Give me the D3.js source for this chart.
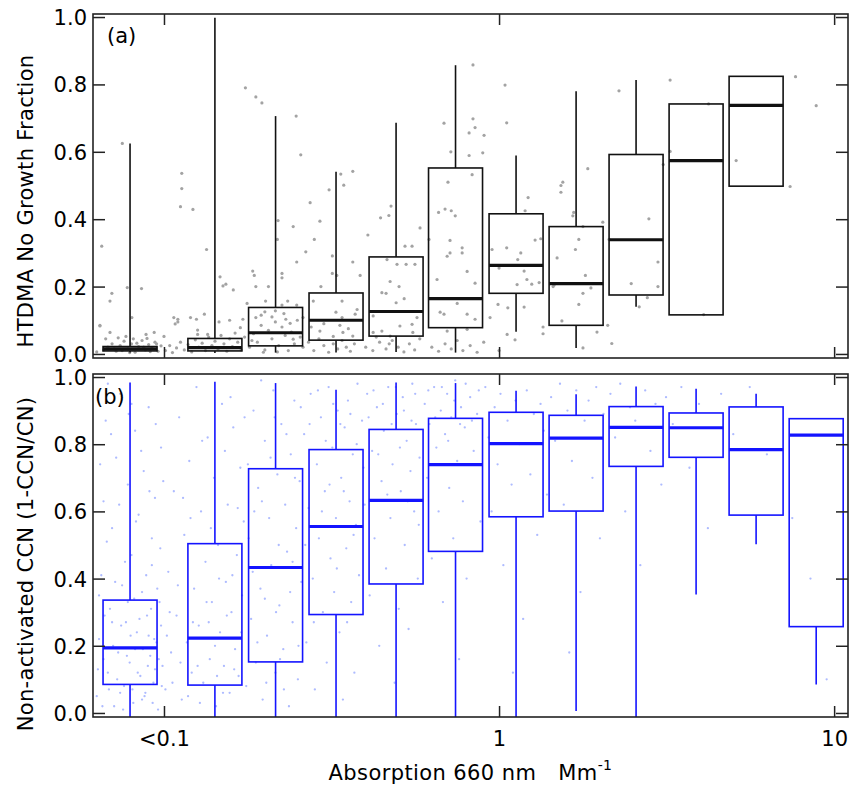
<!DOCTYPE html>
<html>
<head>
<meta charset="utf-8">
<script src="https://cdn.jsdelivr.net/npm/d3@7"></script>
<style>
  body { margin: 0; background: #fff; }
  text { font-family: "DejaVu Sans", Verdana, sans-serif; fill: #000; }
</style>
</head>
<body>
<div id="chart"></div>
<script>
// bin centres (absorption, Mm-1) for the box plots
const absorptionBins = [0.0792, 0.1419, 0.2153, 0.3262, 0.4928, 0.7415, 1.124, 1.698, 2.564, 3.873, 5.85, 8.84]

// [lower whisker, q1, median, q3, upper whisker]
const htdmaStats = [
	[0.004, 0.009, 0.015, 0.022, 0.625],
	[0.003, 0.009, 0.019, 0.046, 0.998],
	[0.004, 0.024, 0.063, 0.138, 0.706],
	[0.004, 0.041, 0.100, 0.181, 0.541],
	[0.006, 0.053, 0.126, 0.288, 0.686],
	[0.004, 0.078, 0.164, 0.552, 0.857],
	[0.066, 0.180, 0.263, 0.416, 0.589],
	[0.018, 0.085, 0.209, 0.378, 0.780],
	[0.140, 0.175, 0.339, 0.592, 0.813],
	[null, 0.116, 0.574, 0.742, null],
	[null, 0.498, 0.738, 0.824, null]
]
const ccnStats = [
	[-0.012, 0.085, 0.194, 0.336, 0.984],
	[-0.012, 0.083, 0.223, 0.504, 0.986],
	[-0.012, 0.152, 0.433, 0.727, 0.982],
	[-0.012, 0.293, 0.555, 0.784, 0.962],
	[-0.012, 0.384, 0.633, 0.844, 0.984],
	[-0.012, 0.481, 0.739, 0.877, 0.982],
	[-0.012, 0.584, 0.802, 0.895, 0.959],
	[0.006, 0.601, 0.818, 0.886, 0.949],
	[-0.012, 0.734, 0.850, 0.912, 0.972],
	[0.353, 0.761, 0.849, 0.893, 0.965],
	[0.502, 0.589, 0.784, 0.911, 0.950],
	[0.085, 0.257, 0.827, 0.876, null]
]

// individual samples [absorption, fraction]
const htdmaPoints = [
	[0.0652,0.32],[0.0699,0.18],[0.069,0.157],[0.0751,0.625],[0.0777,0.197],[0.0857,0.194],[0.0644,0.083],[0.0802,0.108],[0.0644,0.085],[0.069,0.064],[0.077,0.052],[0.0884,0.058],[0.0935,0.064],[0.100,0.052],
	[0.063,0.006],[0.066,0.012],[0.068,0.02],[0.070,0.03],[0.072,0.008],[0.074,0.025],[0.076,0.038],[0.078,0.015],[0.080,0.03],[0.082,0.005],[0.084,0.022],[0.086,0.04],[0.088,0.012],[0.090,0.028],[0.092,0.018],[0.094,0.035],[0.096,0.008],[0.098,0.024],[0.067,0.045],[0.073,0.048],[0.081,0.045],[0.089,0.046],[0.071,0.015],[0.075,0.01],[0.079,0.004],[0.083,0.032],[0.087,0.02],[0.091,0.007],[0.095,0.03],
	[0.107,0.108],[0.108,0.089],[0.110,0.095],[0.113,0.536],[0.113,0.491],[0.112,0.437],[0.122,0.429],[0.134,0.31],[0.147,0.229],[0.150,0.202],[0.153,0.207],[0.110,0.103],[0.120,0.108],[0.125,0.103],[0.132,0.118],[0.146,0.095],[0.126,0.071],[0.126,0.058],[0.135,0.058],[0.157,0.1],[0.161,0.19],[0.169,0.078],[0.172,0.103],
	[0.101,0.01],[0.104,0.025],[0.106,0.004],[0.109,0.018],[0.112,0.035],[0.115,0.012],[0.118,0.028],[0.121,0.006],[0.124,0.042],[0.127,0.02],[0.130,0.032],[0.133,0.01],[0.136,0.05],[0.139,0.025],[0.142,0.038],[0.145,0.015],[0.148,0.055],[0.151,0.03],[0.154,0.008],[0.157,0.045],[0.160,0.022],[0.163,0.062],[0.166,0.035],[0.170,0.012],[0.174,0.05],
	[0.175,0.79],[0.188,0.763],[0.196,0.745],[0.184,0.246],[0.186,0.233],[0.188,0.2],[0.219,0.396],[0.218,0.34],[0.225,0.239],[0.225,0.226],[0.243,0.378],[0.248,0.706],[0.205,0.2],[0.177,0.15],[0.201,0.157],[0.225,0.145],[0.234,0.157],[0.249,0.145],[0.188,0.108],[0.200,0.125],[0.215,0.128],[0.231,0.103],[0.238,0.091],[0.243,0.044],
	[0.18,0.02],[0.185,0.06],[0.19,0.035],[0.195,0.085],[0.2,0.012],[0.205,0.07],[0.21,0.045],[0.215,0.095],[0.22,0.025],[0.225,0.08],[0.23,0.055],[0.235,0.01],[0.24,0.065],[0.245,0.03],[0.25,0.1],[0.255,0.05],[0.195,0.115],[0.21,0.11],[0.228,0.12],[0.183,0.04],[0.198,0.005],[0.218,0.006],
	[0.256,0.591],[0.249,0.273],[0.273,0.449],[0.292,0.394],[0.281,0.34],[0.265,0.303],[0.311,0.487],[0.344,0.501],[0.366,0.542],[0.337,0.534],[0.318,0.291],[0.366,0.273],[0.318,0.239],[0.328,0.233],[0.385,0.233],[0.294,0.2],[0.279,0.157],[0.340,0.157],[0.260,0.108],[0.326,0.124],[0.340,0.108],[0.372,0.118],[0.377,0.132],[0.292,0.068],[0.320,0.052],[0.342,0.064],[0.366,0.053],
	[0.26,0.02],[0.27,0.035],[0.28,0.01],[0.29,0.045],[0.30,0.025],[0.31,0.005],[0.32,0.03],[0.33,0.015],[0.34,0.04],[0.35,0.02],[0.36,0.008],[0.37,0.03],[0.275,0.08],[0.30,0.09],[0.335,0.085],[0.355,0.075],
	[0.406,0.353],[0.443,0.404],[0.469,0.411],[0.476,0.439],[0.524,0.32],[0.55,0.32],[0.581,0.374],[0.463,0.28],[0.496,0.266],[0.528,0.266],[0.561,0.266],[0.447,0.182],[0.46,0.18],[0.473,0.215],[0.503,0.2],[0.521,0.164],[0.493,0.152],[0.421,0.113],[0.421,0.064],[0.447,0.068],[0.506,0.083],[0.55,0.088],[0.569,0.108],[0.553,0.064],[0.473,0.053],
	[0.40,0.02],[0.42,0.01],[0.44,0.035],[0.46,0.015],[0.48,0.04],[0.50,0.02],[0.52,0.006],[0.54,0.03],[0.56,0.012],[0.58,0.045],[0.43,0.05],[0.47,0.03],
	[0.836,0.858],[0.836,0.698],[0.848,0.672],[0.814,0.656],[0.902,0.649],[0.718,0.6],[0.814,0.589],[0.894,0.597],[0.685,0.685],[0.704,0.51],[0.831,0.532],[0.66,0.42],[0.69,0.43],[0.72,0.425],[0.74,0.41],[0.618,0.34],[0.714,0.337],[0.70,0.29],[0.714,0.3],[0.776,0.3],[0.776,0.315],[0.803,0.245],[0.848,0.21],[0.653,0.221],[0.667,0.124],[0.685,0.118],[0.75,0.15],[0.803,0.118],[0.848,0.103],[0.70,0.068],[0.803,0.073],
	[0.63,0.02],[0.66,0.008],[0.69,0.03],[0.72,0.015],[0.75,0.04],[0.78,0.01],[0.82,0.025],[0.86,0.005],[0.9,0.035],
	[0.94,0.108],[0.993,0.147],[1.042,0.798],[1.054,0.686],[1.221,0.464],[1.196,0.425],[1.281,0.338],[1.332,0.342],[0.953,0.31],[1.054,0.315],[1.161,0.3],[1.137,0.28],[1.188,0.246],[1.211,0.221],[1.132,0.206],[1.0,0.255],[1.252,0.207],[1.317,0.212],[1.062,0.137],[1.188,0.139],[1.057,0.058],[1.116,0.042],[1.353,0.08],[1.353,0.06],[1.0,0.01],
	[1.53,0.5],[1.55,0.51],[1.53,0.48],[1.66,0.41],[1.67,0.42],[1.49,0.285],[1.69,0.31],[1.73,0.34],[1.45,0.2],[1.46,0.205],[1.54,0.098],[1.73,0.147],[1.84,0.55],[1.78,0.378],[2.04,0.391],[1.81,0.233],[1.78,0.18],[1.88,0.196],[1.96,0.065],[1.78,0.018],[2.11,0.085],
	[2.17,0.031],[2.28,0.781],[2.13,0.34],[2.80,0.401],[3.09,0.562],[2.98,0.273],[2.48,0.209],[2.98,0.2],[2.77,0.167],[2.62,0.14],
	[3.24,0.601],[3.24,0.813],[4.22,0.742],[5.1,0.574],[4.08,0.117],[7.39,0.497],[7.67,0.823],[8.84,0.737]
]
const ccnPoints = [
	[0.063,0.05],[0.064,0.22],[0.065,0.41],[0.066,0.63],[0.067,0.87],[0.068,0.12],[0.069,0.31],[0.07,0.55],[0.071,0.02],[0.072,0.76],[0.073,0.18],[0.074,0.95],[0.075,0.38],[0.076,0.08],[0.077,0.27],[0.078,0.68],[0.079,0.15],[0.08,0.47],[0.081,0.03],[0.082,0.84],[0.083,0.24],[0.084,0.59],[0.085,0.11],[0.086,0.36],[0.087,0.72],[0.088,0.06],[0.089,0.29],[0.09,0.91],[0.091,0.17],[0.092,0.44],[0.093,0.09],[0.094,0.64],[0.095,0.21],[0.096,0.01],[0.097,0.33],[0.098,0.79],[0.099,0.14],[0.066,0.16],[0.070,0.27],[0.074,0.06],[0.078,0.33],[0.082,0.19],[0.086,0.04],[0.090,0.23],[0.094,0.13],[0.098,0.26],[0.068,0.98],[0.080,0.92],[0.092,0.52],[0.064,0.35],
	[0.0635,0.13],[0.0645,0.74],[0.0655,0.02],[0.0665,0.29],[0.0675,0.51],[0.0685,0.07],[0.0695,0.83],[0.0705,0.2],[0.0715,0.39],[0.0725,0.1],[0.0735,0.62],[0.0745,0.26],[0.0755,0.01],[0.0765,0.45],[0.0775,0.17],[0.0785,0.89],[0.0795,0.23],[0.0805,0.07],[0.0815,0.34],[0.0825,0.57],[0.0835,0.12],[0.0845,0.28],[0.0855,0.78],[0.0865,0.19],[0.0875,0.05],[0.0885,0.41],[0.0895,0.14],[0.0905,0.66],[0.0915,0.31],[0.0925,0.03],[0.0935,0.22],[0.0945,0.86],[0.0955,0.37],[0.0965,0.16],[0.0975,0.49],[0.0985,0.08],[0.0995,0.69],
	[0.101,0.07],[0.103,0.42],[0.105,0.18],[0.107,0.66],[0.109,0.29],[0.111,0.88],[0.113,0.04],[0.115,0.53],[0.117,0.21],[0.119,0.75],[0.121,0.12],[0.123,0.37],[0.125,0.97],[0.127,0.26],[0.129,0.6],[0.131,0.09],[0.133,0.45],[0.135,0.82],[0.137,0.16],[0.139,0.33],[0.141,0.7],[0.143,0.02],[0.145,0.5],[0.147,0.24],[0.149,0.92],[0.151,0.14],[0.153,0.39],[0.155,0.62],[0.157,0.06],[0.159,0.3],[0.161,0.85],[0.163,0.19],[0.165,0.47],[0.167,0.11],[0.169,0.73],[0.171,0.35],[0.173,0.57],[0.104,0.3],[0.112,0.15],[0.12,0.58],[0.128,0.03],[0.136,0.27],[0.144,0.11],[0.152,0.78],[0.16,0.41],
	[0.102,0.23],[0.106,0.09],[0.110,0.38],[0.114,0.64],[0.118,0.05],[0.122,0.27],[0.126,0.14],[0.130,0.81],[0.134,0.33],[0.138,0.55],[0.142,0.2],[0.146,0.4],[0.150,0.06],[0.154,0.29],[0.158,0.94],[0.162,0.13],[0.166,0.61],[0.170,0.24],[0.174,0.88],
	[0.176,0.08],[0.179,0.52],[0.182,0.28],[0.185,0.9],[0.188,0.15],[0.191,0.67],[0.194,0.37],[0.197,0.04],[0.2,0.81],[0.203,0.23],[0.206,0.58],[0.209,0.44],[0.212,0.96],[0.215,0.12],[0.218,0.71],[0.221,0.32],[0.224,0.86],[0.227,0.19],[0.23,0.62],[0.233,0.48],[0.236,0.02],[0.239,0.77],[0.242,0.27],[0.245,0.93],[0.248,0.55],[0.251,0.1],[0.254,0.69],[0.257,0.39],[0.186,0.6],[0.2,0.34],[0.214,0.88],[0.228,0.07],[0.242,0.45],[0.195,0.99],[0.22,0.5],
	[0.178,0.74],[0.184,0.42],[0.19,0.21],[0.196,0.63],[0.202,0.09],[0.208,0.76],[0.216,0.3],[0.222,0.16],[0.232,0.83],[0.238,0.36],[0.246,0.7],[0.252,0.2],[0.256,0.91],
	[0.262,0.83],[0.266,0.21],[0.27,0.61],[0.274,0.95],[0.278,0.4],[0.282,0.07],[0.286,0.74],[0.29,0.52],[0.294,0.88],[0.298,0.3],[0.302,0.66],[0.306,0.15],[0.31,0.97],[0.314,0.46],[0.318,0.79],[0.322,0.36],[0.326,0.58],[0.33,0.9],[0.334,0.24],[0.338,0.7],[0.342,0.04],[0.346,0.85],[0.35,0.49],[0.354,0.93],[0.358,0.63],[0.362,0.33],[0.366,0.77],[0.37,0.12],[0.374,0.56],[0.378,0.98],[0.382,0.41],
	[0.264,0.5],[0.272,0.86],[0.28,0.27],[0.288,0.96],[0.296,0.6],[0.304,0.81],[0.312,0.68],[0.32,0.92],[0.328,0.43],[0.336,0.86],[0.344,0.66],[0.352,0.27],[0.36,0.89],[0.368,0.53],[0.376,0.8],
	[0.39,0.87],[0.397,0.62],[0.404,0.95],[0.411,0.35],[0.418,0.78],[0.425,0.52],[0.432,0.91],[0.439,0.2],[0.446,0.69],[0.453,0.84],[0.46,0.43],[0.467,0.97],[0.474,0.58],[0.481,0.74],[0.488,0.09],[0.495,0.89],[0.502,0.31],[0.509,0.66],[0.516,0.94],[0.523,0.5],[0.53,0.81],[0.537,0.25],[0.544,0.72],[0.551,0.98],[0.558,0.6],[0.565,0.86],[0.572,0.4],[0.579,0.76],
	[0.394,0.73],[0.408,0.88],[0.422,0.96],[0.436,0.77],[0.45,0.92],[0.464,0.65],[0.478,0.86],[0.492,0.97],[0.506,0.79],[0.52,0.9],[0.534,0.63],[0.548,0.87],[0.562,0.95],[0.576,0.56],
	[0.6,0.92],[0.61,0.7],[0.62,0.86],[0.63,0.46],[0.64,0.97],[0.65,0.79],[0.66,0.6],[0.67,0.9],[0.68,0.33],[0.69,0.83],[0.7,0.95],[0.71,0.67],[0.72,0.88],[0.73,0.52],[0.74,0.99],[0.75,0.75],[0.76,0.16],[0.77,0.91],[0.78,0.63],[0.79,0.85],[0.8,0.4],[0.82,0.94],[0.84,0.78],[0.86,0.89],[0.88,0.57],
	[0.615,0.96],[0.645,0.88],[0.675,0.97],[0.705,0.81],[0.735,0.93],[0.765,0.86],[0.795,0.98],[0.83,0.87],[0.87,0.96],
	[0.91,0.97],[0.93,0.82],[0.95,0.6],[0.97,0.91],[0.99,0.74],[1.01,0.95],[1.03,0.44],[1.06,0.87],[1.09,0.68],[1.12,0.93],[1.15,0.8],[1.18,0.28],[1.21,0.96],[1.24,0.71],[1.27,0.89],[1.3,0.53],[1.33,0.92],[1.36,0.84],[1.39,0.65],[1.1,0.12],
	[1.43,0.94],[1.47,0.81],[1.52,0.98],[1.56,0.62],[1.6,0.9],[1.65,0.75],[1.7,0.96],[1.75,0.36],[1.8,0.87],[1.85,0.93],[1.9,0.7],[1.95,0.97],[2.0,0.52],[2.05,0.89],[1.62,0.18],
	[2.15,0.95],[2.22,0.82],[2.3,0.98],[2.38,0.6],[2.46,0.91],[2.55,0.87],[2.64,0.44],[2.73,0.96],[2.83,0.78],[2.93,0.92],[3.05,0.68],[3.15,0.94],
	[3.3,0.86],[3.5,0.97],[3.7,0.73],[3.95,0.92],[4.2,0.55],[4.6,0.95],[5.0,0.83],[5.6,0.97],[6.3,0.77],[7.5,0.58],[8.5,0.4],[9.5,0.1]
]

const xTickValues = [0.1, 1, 10]
const xTickLabels = ["<0.1", "1", "10"]
const yTickValues = [0, 0.2, 0.4, 0.6, 0.8, 1.0]

const width = 853
const height = 792
const left = 93
const right = 848
const boxWidth = 54

const svg = d3.select("#chart").append("svg")
	.attr("width", width)
	.attr("height", height)

const x = d3.scaleLog()
	.domain([0.0614, 11.0])
	.range([left, right])

const panels = [
	{ id: "a", top: 14, bottom: 358, stats: htdmaStats, points: htdmaPoints,
		line: "#111", dot: "#a3a3a3", dotR: 1.6, tag: "(a)", tagX: 107, tagY: 43,
		label: "HTDMA No Growth Fraction", labelY: 201 },
	{ id: "b", top: 374, bottom: 717, stats: ccnStats, points: ccnPoints,
		line: "#1414ff", dot: "#aebbff", dotR: 1.15, tag: "(b)", tagX: 95, tagY: 404,
		label: "Non-activated CCN (1-CCN/CN)", labelY: 564 }
]

panels.forEach(function (p, pi) {
	const y = d3.scaleLinear()
		.domain([-0.012, 1.009])
		.range([p.bottom, p.top])

	const g = svg.append("g")

	g.append("clipPath").attr("id", "clip" + p.id)
		.append("rect")
		.attr("x", left).attr("y", p.top)
		.attr("width", right - left).attr("height", p.bottom - p.top)

	const plot = g.append("g").attr("clip-path", "url(#clip" + p.id + ")")

	// samples
	plot.selectAll("circle.pt")
		.data(p.points)
		.enter().append("circle")
		.attr("class", "pt")
		.attr("cx", d => x(d[0]))
		.attr("cy", d => y(d[1]))
		.attr("r", p.dotR)
		.attr("fill", p.dot)

	// boxes
	p.stats.forEach(function (s, i) {
		const cx = x(absorptionBins[i])
		if (s[4] !== null) {
			plot.append("line")
				.attr("x1", cx).attr("x2", cx)
				.attr("y1", y(s[3])).attr("y2", y(s[4]))
				.attr("stroke", p.line).attr("stroke-width", 1.6)
		}
		if (s[0] !== null) {
			plot.append("line")
				.attr("x1", cx).attr("x2", cx)
				.attr("y1", y(s[1])).attr("y2", y(s[0]))
				.attr("stroke", p.line).attr("stroke-width", 1.6)
		}
		plot.append("rect")
			.attr("x", cx - boxWidth / 2)
			.attr("y", y(s[3]))
			.attr("width", boxWidth)
			.attr("height", y(s[1]) - y(s[3]))
			.attr("fill", "none")
			.attr("stroke", p.line)
			.attr("stroke-width", 1.6)
		plot.append("line")
			.attr("x1", cx - boxWidth / 2).attr("x2", cx + boxWidth / 2)
			.attr("y1", y(s[2])).attr("y2", y(s[2]))
			.attr("stroke", p.line).attr("stroke-width", 3.2)
	})

	// axes, ticks inward on all sides
	const yl = g.append("g")
		.attr("transform", "translate(" + left + ",0)")
		.call(d3.axisLeft(y).tickValues(yTickValues).tickSize(-12).tickPadding(6)
			.tickFormat(d3.format(".1f")))
	const yr = g.append("g")
		.attr("transform", "translate(" + right + ",0)")
		.call(d3.axisRight(y).tickValues(yTickValues).tickSize(-12).tickFormat(""))
	const xt = g.append("g")
		.attr("transform", "translate(0," + p.top + ")")
		.call(d3.axisTop(x).tickValues(xTickValues).tickSize(-11).tickFormat(""))
	const xb = g.append("g")
		.attr("transform", "translate(0," + p.bottom + ")")
		.call(d3.axisBottom(x).tickValues(xTickValues).tickSize(-11).tickPadding(14)
			.tickFormat((d, i) => pi === 1 ? xTickLabels[i] : ""))

	;[yl, yr, xt, xb].forEach(function (ax) {
		ax.select(".domain").remove()
		ax.selectAll(".tick line").attr("stroke", "#222").attr("stroke-width", 1.5)
		ax.selectAll(".tick text")
			.attr("font-family", "DejaVu Sans")
			.attr("font-size", 21)
			.attr("fill", "#000")
	})
	yl.selectAll(".tick text").attr("dy", "0.36em")

	g.append("rect")
		.attr("x", left).attr("y", p.top)
		.attr("width", right - left).attr("height", p.bottom - p.top)
		.attr("fill", "none")
		.attr("stroke", "#222")
		.attr("stroke-width", 1.6)

	g.append("text")
		.attr("x", p.tagX).attr("y", p.tagY)
		.attr("font-size", 21)
		.text(p.tag)

	g.append("text")
		.attr("transform", "translate(33," + p.labelY + ") rotate(-90)")
		.attr("text-anchor", "middle")
		.attr("font-size", 21)
		.attr("letter-spacing", 0.3)
		.text(p.label)
})

const xl = svg.append("text")
	.attr("x", (left + right) / 2)
	.attr("y", 780)
	.attr("text-anchor", "middle")
	.attr("font-size", 21)
	.attr("letter-spacing", 0.4)
xl.append("tspan").text("Absorption 660 nm")
xl.append("tspan").attr("dx", 22).text("Mm")
xl.append("tspan").attr("dy", -10).attr("font-size", 14).text("-1")
</script>
</body>
</html>
